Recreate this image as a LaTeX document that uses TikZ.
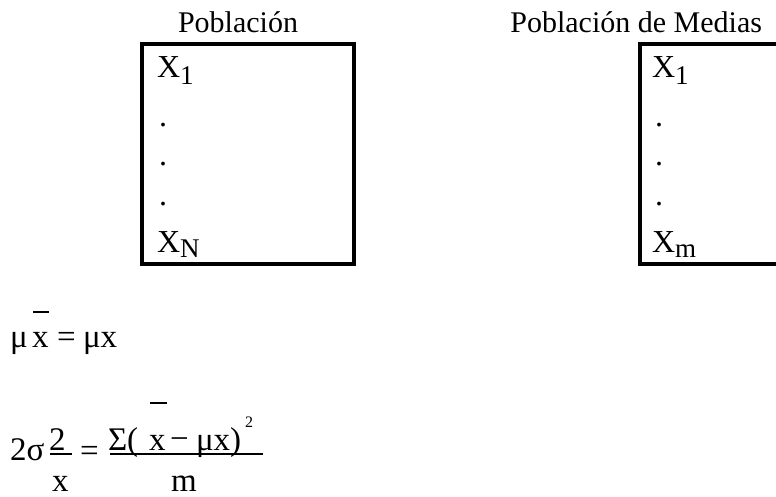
\documentclass[tikz,border=0pt]{standalone}
\usepackage{fontspec}
\setmainfont{Liberation Serif}
\begin{document}
\begin{tikzpicture}[x=1pt,y=-1pt,
  txt/.style={anchor=base west,inner sep=0pt,outer sep=0pt,font=\fontsize{30}{30}\selectfont},
  boxtxt/.style={anchor=base west,inner sep=0pt,outer sep=0pt,font=\fontsize{32}{32}\selectfont},
  frm/.style={anchor=base west,inner sep=0pt,outer sep=0pt,font=\fontsize{33}{33}\selectfont},
  boxline/.style={line width=4pt},
  barline/.style={line width=2.2pt}]
\useasboundingbox (0,0) rectangle (776,497);
\clip (0,0) rectangle (776,497);
% titles
\node[txt] (t1) at (178,33) {Población};
\node[txt,anchor=base east] (t2) at (762,33) {Población de Medias};
% left box
\draw[boxline] (142,44) rectangle (354,264);
\node[boxtxt] (a1) at (157,78) {X\raisebox{-7pt}{\fontsize{27}{27}\selectfont 1}};
\node[boxtxt] (a2) at (159,127) {.};
\node[boxtxt] (a3) at (159,166) {.};
\node[boxtxt] (a4) at (159,206) {.};
\node[boxtxt] (a5) at (157,252) {X\raisebox{-5pt}{\fontsize{27}{27}\selectfont N}};
% right box
\draw[boxline] (790,44) -- (640,44) -- (640,264) -- (790,264);
\node[boxtxt] (b1) at (652,78) {X\raisebox{-7pt}{\fontsize{27}{27}\selectfont 1}};
\node[boxtxt] (b2) at (655,127) {.};
\node[boxtxt] (b3) at (655,166) {.};
\node[boxtxt] (b4) at (655,206) {.};
\node[boxtxt] (b5) at (652,252) {X\raisebox{-5pt}{\fontsize{27}{27}\selectfont m}};
% formula 1
\node[frm] (f1) at (10,347) {μ};
\node[frm] (f2) at (32,347) {x};
\draw[barline] (33,312) -- (49,312);
\node[frm] (f3) at (57,347) {=};
\node[frm] (f4) at (83,347) {μx};
% formula 2
\node[frm] (g1) at (10,460) {2σ};
\node[frm] (g2) at (49,450) {2};
\draw[barline] (50,454) -- (72,454);
\node[frm] (g3) at (52,491) {x};
\node[frm] (g4) at (80,461) {=};
\draw[barline] (110,454) -- (263,454);
\node[frm] (g5) at (108,450) {Σ(};
\node[frm] (g6) at (149,450) {x};
\draw[barline] (150,403) -- (167,403);
\node[frm] (g7) at (170,449) {−};
\node[frm] (g8) at (196,450) {μx)};
\node[anchor=base west,inner sep=0pt,font=\fontsize{16}{16}\selectfont] (g9) at (245,427) {2};
\node[frm] (g10) at (171,491) {m};
\end{tikzpicture}
\end{document}
